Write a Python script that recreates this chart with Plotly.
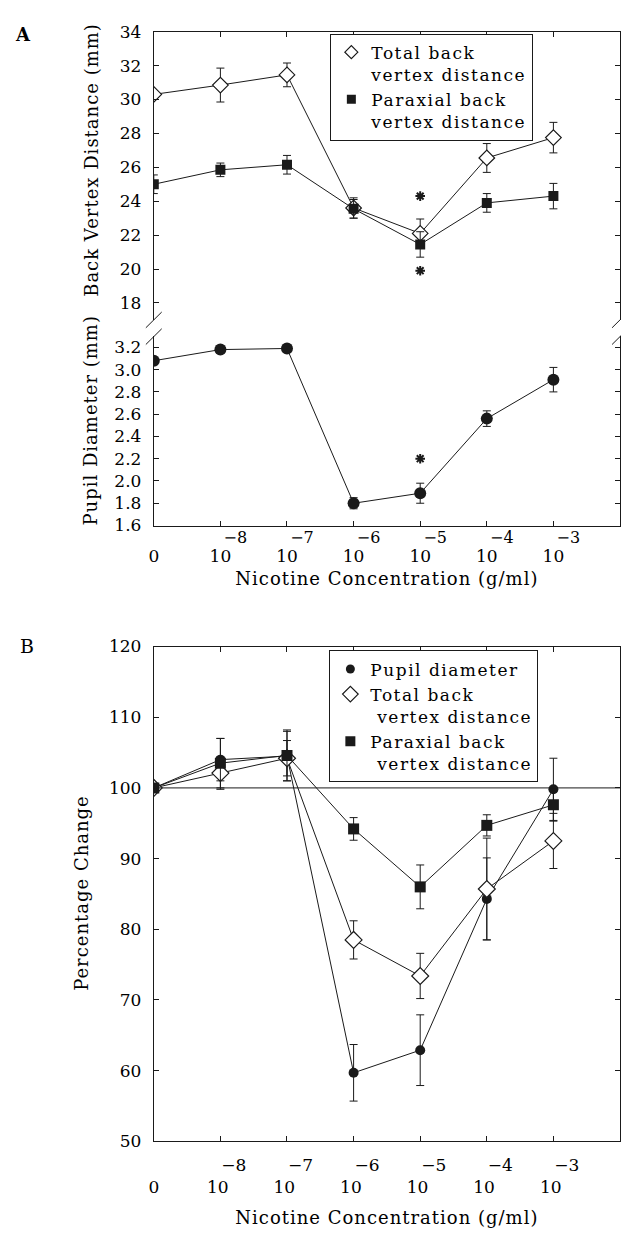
import plotly.graph_objects as go

W, H = 621, 1235
FONT = "DejaVu Serif"

# ---------------- data ----------------
x_pos = [0, 1, 2, 3, 4, 5, 6]
base_labels = ["0", "10", "10", "10", "10", "10", "10"]
exponents = ["−8", "−7", "−6", "−5", "−4", "−3"]

# Panel A (upper): back vertex distance (mm)
A_total = [30.3, 30.85, 31.45, 23.6, 22.1, 26.55, 27.75]
A_total_err = [0.15, 1.0, 0.7, 0.6, 0.85, 0.85, 0.9]
A_parax = [25.0, 25.85, 26.15, 23.55, 21.45, 23.9, 24.3]
A_parax_err = [0.55, 0.4, 0.55, 0.55, 0.75, 0.55, 0.75]
# Panel A (lower): pupil diameter (mm)
A_pupil = [3.08, 3.18, 3.19, 1.80, 1.89, 2.56, 2.91]
A_pupil_err = [0.02, 0.03, 0.01, 0.05, 0.09, 0.07, 0.11]
# significance asterisks
A_star_x = [4, 4]
A_star_y = [24.3, 19.9]
A_pupil_star_x = [4]
A_pupil_star_y = [2.2]

# Panel B: percentage change
B_pupil = [100, 104.0, 104.5, 59.7, 62.9, 84.3, 99.8]
B_pupil_err = [0, 3.0, 3.5, 4.0, 5.0, 5.8, 4.4]
B_total = [100, 102.1, 104.2, 78.5, 73.4, 85.7, 92.5]
B_total_err = [0, 2.3, 2.5, 2.7, 3.2, 7.2, 3.9]
B_parax = [100, 103.5, 104.6, 94.2, 86.0, 94.7, 97.6]
B_parax_err = [0, 3.5, 3.6, 1.6, 3.1, 1.5, 2.3]
B_ref_level = 100

B_ticktext = ["&nbsp;<br>0"] + ["&nbsp;&nbsp;&nbsp;&nbsp;&nbsp;" + e + "<br>10&nbsp;" for e in exponents]

LS = "<span style='letter-spacing:1.5px'>{}</span>"
LT = "<span style='letter-spacing:1px'>{}</span>"

# ---------------- geometry helpers (pixels -> paper) ----------------
def pxx(p):
    return p / W

def pxy(p):
    return 1 - p / H

INK = "#1a1a1a"
axis_common = dict(showline=True, linecolor=INK, linewidth=1, ticks="inside", ticklen=5,
                   tickcolor=INK, tickwidth=1, showgrid=False, zeroline=False, tickangle=0,
                   tickfont=dict(family=FONT, size=17, color="black"))

fig = go.Figure()

err_style = dict(type="data", color=INK, thickness=1, width=4)
line_style = dict(color=INK, width=1)
star_marker = dict(symbol="asterisk-open", size=8, color=INK, line=dict(color=INK, width=2))

# Upper A
fig.add_trace(go.Scatter(x=x_pos, y=A_total, mode="lines+markers", xaxis="x3", yaxis="y",
                         line=line_style, showlegend=False,
                         marker=dict(symbol="diamond", size=12, color="white", line=dict(color=INK, width=1.2)),
                         error_y=dict(array=A_total_err, **err_style)))
fig.add_trace(go.Scatter(x=x_pos, y=A_parax, mode="lines+markers", xaxis="x3", yaxis="y",
                         line=line_style, showlegend=False,
                         marker=dict(symbol="square", size=10, color=INK),
                         error_y=dict(array=A_parax_err, **err_style)))
fig.add_trace(go.Scatter(x=A_star_x, y=A_star_y, mode="markers", xaxis="x3", yaxis="y", showlegend=False,
                         marker=star_marker))
# Lower A
fig.add_trace(go.Scatter(x=x_pos, y=A_pupil, mode="lines+markers", xaxis="x", yaxis="y2",
                         line=line_style, showlegend=False,
                         marker=dict(symbol="circle", size=12, color=INK),
                         error_y=dict(array=A_pupil_err, **err_style)))
fig.add_trace(go.Scatter(x=A_pupil_star_x, y=A_pupil_star_y, mode="markers", xaxis="x4", yaxis="y2",
                         showlegend=False, marker=star_marker))
# B
fig.add_trace(go.Scatter(x=x_pos, y=B_pupil, mode="lines+markers", xaxis="x2", yaxis="y3",
                         line=line_style, showlegend=False,
                         marker=dict(symbol="circle", size=10, color=INK),
                         error_y=dict(array=B_pupil_err, **err_style)))
fig.add_trace(go.Scatter(x=x_pos, y=B_total, mode="lines+markers", xaxis="x2", yaxis="y3",
                         line=line_style, showlegend=False,
                         marker=dict(symbol="diamond", size=13, color="white", line=dict(color=INK, width=1.2)),
                         error_y=dict(array=B_total_err, **err_style)))
fig.add_trace(go.Scatter(x=x_pos, y=B_parax, mode="lines+markers", xaxis="x2", yaxis="y3",
                         line=line_style, showlegend=False,
                         marker=dict(symbol="square", size=11, color=INK),
                         error_y=dict(array=B_parax_err, **err_style)))

# legend-only entries (markers only, as in the figure)
fig.add_trace(go.Scatter(x=[None], y=[None], mode="markers",
                         name=LS.format("Total back") + "<br>" + LS.format("vertex distance"),
                         legend="legend", marker=dict(symbol="diamond", size=10, color="white",
                                                      line=dict(color=INK, width=1.2))))
fig.add_trace(go.Scatter(x=[None], y=[None], mode="markers",
                         name=LS.format("Paraxial back") + "<br>" + LS.format("vertex distance"),
                         legend="legend", marker=dict(symbol="square", size=9, color=INK)))
fig.add_trace(go.Scatter(x=[None], y=[None], mode="markers", name=LS.format("Pupil diameter"),
                         legend="legend2", marker=dict(symbol="circle", size=9, color=INK)))
fig.add_trace(go.Scatter(x=[None], y=[None], mode="markers",
                         name=LS.format("Total back") + "<br>" + LS.format("&nbsp;vertex distance"),
                         legend="legend2", marker=dict(symbol="diamond", size=12, color="white",
                                                       line=dict(color=INK, width=1.2))))
fig.add_trace(go.Scatter(x=[None], y=[None], mode="markers",
                         name=LS.format("Paraxial back") + "<br>" + LS.format("&nbsp;vertex distance"),
                         legend="legend2", marker=dict(symbol="square", size=10, color=INK)))

A_dom_x = [pxx(150), pxx(620)]
B_dom_x = [pxx(150), pxx(620)]
upper_dom = [pxy(315), pxy(22)]
lower_dom = [pxy(524), pxy(331.6)]
B_dom = [pxy(1150), pxy(647)]

title_font = dict(family=FONT, size=18, color="black")
legend_font = dict(family=FONT, size=17, color="black")

fig.update_layout(
    width=W, height=H, margin=dict(l=0, r=0, t=0, b=0),
    paper_bgcolor="white", plot_bgcolor="white",
    xaxis=dict(domain=A_dom_x, anchor="y2", range=[0, 7], tickvals=x_pos, ticktext=base_labels,
               title=dict(text=LT.format("Nicotine Concentration (g/ml)"), font=title_font, standoff=7),
               ticklabelstandoff=15, **axis_common),
    # exponents of the panel-A tick labels, drawn as a second label row
    xaxis4=dict(overlaying="x", anchor="y2", side="bottom", range=[0, 7], tickvals=x_pos[1:],
                ticktext=exponents, showline=False, ticks="", showgrid=False, zeroline=False,
                tickangle=0, ticklabelshift=15, ticklabelstandoff=0,
                tickfont=dict(family=FONT, size=16, color="black")),
    xaxis3=dict(domain=A_dom_x, anchor="y", side="top", range=[0, 7], matches="x", tickvals=x_pos,
                showticklabels=False, **axis_common),
    yaxis=dict(domain=upper_dom, anchor="x3", range=[17, 34], tickvals=list(range(18, 35, 2)),
               mirror="ticks", ticklabelstandoff=8, **axis_common),
    yaxis2=dict(domain=lower_dom, anchor="x", range=[1.6, 3.3], tickvals=[1.6, 1.8, 2.0, 2.2, 2.4, 2.6, 2.8, 3.0, 3.2],
                tickformat=".1f", mirror="ticks", ticklabelstandoff=8, **axis_common),
    xaxis2=dict(domain=B_dom_x, anchor="y3", range=[0, 7], tickvals=x_pos, ticktext=B_ticktext,
                mirror="ticks", ticklabelstandoff=8,
                title=dict(text=LT.format("Nicotine Concentration (g/ml)"), font=title_font, standoff=15),
                **axis_common),
    yaxis3=dict(domain=B_dom, anchor="x2", range=[50, 120], tickvals=list(range(50, 121, 10)),
                mirror="ticks", ticklabelstandoff=8, **axis_common),
    legend=dict(x=pxx(328), y=pxy(24), xanchor="left", yanchor="top", bgcolor="white",
                bordercolor=INK, borderwidth=1, valign="top", itemwidth=30, font=legend_font),
    legend2=dict(x=pxx(327), y=pxy(651), xanchor="left", yanchor="top", bgcolor="white",
                 bordercolor=INK, borderwidth=1, valign="top", itemwidth=30, font=legend_font),
    annotations=[
        dict(text="<b>A</b>", x=pxx(18), y=pxy(25), xref="paper", yref="paper", showarrow=False,
             xanchor="center", yanchor="middle", font=dict(family=FONT, size=18, color="black")),
        dict(text="B", x=pxx(22), y=pxy(646), xref="paper", yref="paper", showarrow=False,
             xanchor="center", yanchor="middle", font=dict(family=FONT, size=19, color="black")),
        dict(text=LT.format("Back Vertex Distance (mm)"), x=pxx(87), y=pxy(152), xref="paper", yref="paper",
             textangle=-90, showarrow=False, xanchor="center", yanchor="middle", font=title_font),
        dict(text=LT.format("Pupil Diameter (mm)"), x=pxx(86), y=pxy(417), xref="paper", yref="paper",
             textangle=-90, showarrow=False, xanchor="center", yanchor="middle", font=title_font),
        dict(text=LT.format("Percentage Change"), x=pxx(77), y=pxy(897), xref="paper", yref="paper",
             textangle=-90, showarrow=False, xanchor="center", yanchor="middle", font=title_font),
    ],
)

# reference line at 100 %
shapes = [dict(type="line", xref="x2 domain", yref="y3", x0=0, x1=1, y0=B_ref_level, y1=B_ref_level,
               line=dict(color=INK, width=1))]
# axis-break marks
for ax_px in (150, 620):
    for y_px in (315, 332):
        shapes.append(dict(type="line", xref="paper", yref="paper",
                           x0=pxx(ax_px - 8), y0=pxy(y_px + 8), x1=pxx(ax_px + 8), y1=pxy(y_px - 8),
                           line=dict(color=INK, width=1)))
fig.update_layout(shapes=shapes)

fig.write_html("out.html")
